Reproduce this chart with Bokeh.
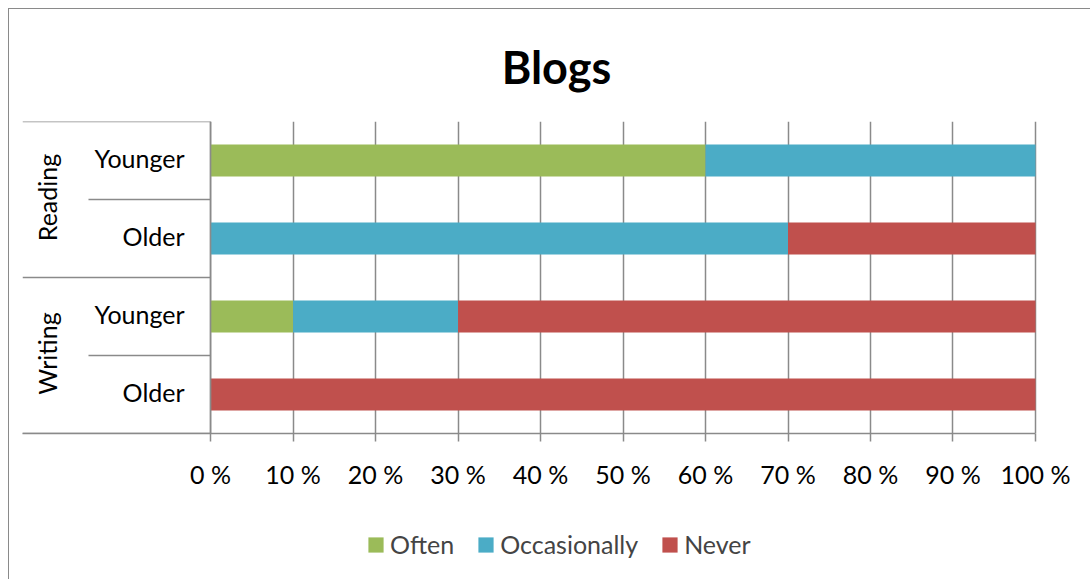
import math
from bokeh.plotting import figure
from bokeh.models import (Range1d, FixedTicker, Legend, LegendItem, Title, ColumnDataSource)
from bokeh.layouts import column
from bokeh.core.properties import value
from bokeh.embed import file_html
from bokeh.resources import INLINE

# ---- data ----
groups = ["Reading", "Reading", "Writing", "Writing"]
subgroups = ["Younger", "Older", "Younger", "Older"]
often = [60, 0, 10, 0]
occasionally = [40, 70, 20, 0]
never = [0, 30, 70, 100]
series_names = ["Often", "Occasionally", "Never"]
series_colors = ["#9BBB59", "#4BACC6", "#C0504D"]
tick_values = [0, 10, 20, 30, 40, 50, 60, 70, 80, 90, 100]
tick_labels = ["0 %", "10 %", "20 %", "30 %", "40 %", "50 %", "60 %", "70 %", "80 %", "90 %", "100 %"]
title_text = "Blogs"

FONT = "Lato"
GRID = "#8a8a8a"
n = len(subgroups)
ypos = [n - i - 0.5 for i in range(n)]
label_left = -22.8
right_pad = 106.67

src = ColumnDataSource(dict(y=ypos, Often=often, Occasionally=occasionally, Never=never))

p = figure(width=1081, height=500, output_backend="svg", toolbar_location=None,
           x_range=Range1d(label_left, right_pad), y_range=Range1d(0, n),
           min_border_left=13, min_border_right=0, min_border_top=111, min_border_bottom=76,
           y_axis_location=None)
p.outline_line_color = None
p.background_fill_color = "white"
p.border_fill_color = "white"

rs = p.hbar_stack(series_names, y="y", height=0.41, color=series_colors, source=src, line_color=None)

# axis
xa = p.xaxis[0]
xa.ticker = FixedTicker(ticks=tick_values)
xa.bounds = (label_left, 100)
xa.major_label_overrides = {v: l for v, l in zip(tick_values, tick_labels)}
xa.major_label_text_font = FONT
xa.major_label_text_font_size = "25px"
xa.major_label_text_color = "black"
xa.major_label_standoff = 17
xa.axis_line_color = GRID
xa.axis_line_width = 1.5
xa.major_tick_line_color = GRID
xa.major_tick_line_width = 1.5
xa.major_tick_out = 8
xa.major_tick_in = 0
xa.minor_tick_line_color = None
p.xgrid.grid_line_color = GRID
p.xgrid.grid_line_width = 1.5
p.xgrid.ticker = FixedTicker(ticks=tick_values)
p.ygrid.grid_line_color = None

# category label table lines
x0s, y0s, x1s, y1s = [], [], [], []
bounds = [n]
for i in range(1, n):
    bounds.append(n - i)
bounds.append(0)
for b in bounds:
    idx = n - b
    if idx == 0 or idx == n or groups[idx] != groups[idx - 1]:
        x0s.append(label_left)
    else:
        x0s.append(-14.8)
    y0s.append(b); x1s.append(0); y1s.append(b)
p.segment(x0=x0s, y0=y0s, x1=x1s, y1=y1s, line_color=GRID, line_width=1.5)
p.segment(x0=[0], y0=[0], x1=[0], y1=[n], line_color=GRID, line_width=1.5)

# subgroup labels
p.text(x=[-3.15] * n, y=ypos, text=subgroups, text_align="right", text_baseline="middle",
       y_offset=-3, text_font=value(FONT), text_font_size="25px", text_color="black")
# group labels
ug = []
for g in groups:
    if g not in ug:
        ug.append(g)
gy = [sum(y for y, gg in zip(ypos, groups) if gg == g) / groups.count(g) for g in ug]
p.text(x=[-19.7] * len(ug), y=gy, text=ug, angle=math.pi / 2, text_align="center", text_baseline="middle",
       x_offset=-1, y_offset=-2, text_font=value(FONT), text_font_size="25px", text_color="black")

# title
t = Title(text=title_text, align="center", text_font=FONT, text_font_size="45px", text_font_style="bold",
          text_color="black", standoff=56)
p.add_layout(t, "above")

# legend strip (second figure, same series; its bars lie outside its view)
p2 = figure(width=1081, height=70, output_backend="svg", toolbar_location=None,
            x_range=Range1d(1000, 1001), y_range=Range1d(100, 101),
            min_border_left=0, min_border_right=0, min_border_top=0, min_border_bottom=0,
            x_axis_location=None, y_axis_location=None)
p2.outline_line_color = None
p2.xgrid.grid_line_color = None
p2.ygrid.grid_line_color = None
rs2 = p2.hbar_stack(series_names, y="y", height=0.41, color=series_colors, source=src, line_color=None)
legend = Legend(items=[LegendItem(label=nm, renderers=[r]) for nm, r in zip(series_names, rs2)],
                orientation="horizontal", location=(344, 20), padding=0, margin=0,
                border_line_color=None, background_fill_alpha=0,
                label_text_font=FONT, label_text_font_size="25px",
                glyph_width=19, glyph_height=19, label_standoff=5, spacing=22)
p2.add_layout(legend, "center")

layout = column(p, p2, spacing=0)
layout.margin = (8, 0, 0, 8)
layout.styles = {"border-left": "1px solid #8a8a8a", "border-top": "1px solid #8a8a8a"}

open("out.html", "w").write(file_html(layout, INLINE))
